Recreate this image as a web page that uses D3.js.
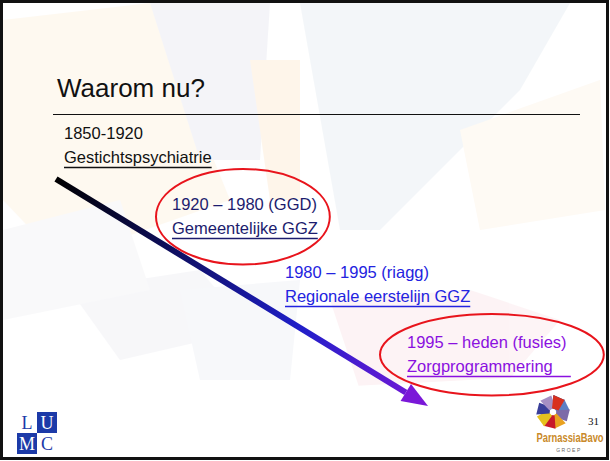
<!DOCTYPE html>
<html>
<head>
<meta charset="utf-8">
<script src="https://cdn.jsdelivr.net/npm/d3@7"></script>
<style>
body { margin: 0; background: #fff; }
text { font-family: "Liberation Sans", Arial, sans-serif; }
</style>
</head>
<body>
<div id="slide"></div>
<script>
// slide content
let title = "Waarom nu?";
let periods = ["1850-1920", "1920 – 1980 (GGD)", "1980 – 1995 (riagg)", "1995 – heden (fusies)"];
let names = ["Gestichtspsychiatrie", "Gemeentelijke GGZ", "Regionale eerstelijn GGZ", "Zorgprogrammering"];
let periodColors = ["#111111", "#1c1c6e", "#2323e0", "#8a10e0"];
let circled = [false, true, false, true];
let slideNumber = "31";

function buildSlide() {

let boxWidth = 610;
let boxHeight = 461;

let svg = d3.select("#slide")
    .append("svg")
    .attr("width", boxWidth)
    .attr("height", boxHeight);

let defs = svg.append("defs");

// faint background shapes
let bg = svg.append("g").attr("opacity", 0.4);
let shapes = [
    {pts: [[3,20],[150,3],[230,200],[60,260],[3,200]], c: "#fdf1dc"},
    {pts: [[150,3],[270,3],[260,160],[200,160]], c: "#e6e6f0"},
    {pts: [[300,3],[570,3],[520,90],[380,230],[340,230]], c: "#e3ebf1"},
    {pts: [[250,60],[300,60],[300,200],[270,200]], c: "#fde8cc"},
    {pts: [[330,300],[470,290],[560,320],[500,390],[360,390]], c: "#fbe3e8"},
    {pts: [[70,290],[200,270],[250,330],[120,360]], c: "#ececf2"},
    {pts: [[3,230],[120,200],[150,290],[3,320]], c: "#f1f1f5"},
    {pts: [[460,130],[600,80],[605,210],[480,230]], c: "#fdf3e4"},
    {pts: [[180,290],[300,280],[290,380],[200,380]], c: "#eceef5"}
];
bg.selectAll("polygon")
    .data(shapes)
    .enter()
    .append("polygon")
    .attr("points", d => d.pts.map(p => p.join(",")).join(" "))
    .attr("fill", d => d.c);

// white footer band
svg.append("path")
    .attr("d", "M0,405 C150,395 400,385 610,372 L610,461 L0,461 Z")
    .attr("fill", "#ffffff");

// frame
svg.append("rect")
    .attr("x", 1.5).attr("y", 1.5)
    .attr("width", boxWidth - 4).attr("height", boxHeight - 4)
    .attr("fill", "none")
    .attr("stroke", "#111")
    .attr("stroke-width", 3);

// title
svg.append("text")
    .attr("x", 57).attr("y", 97)
    .attr("font-size", "26px")
    .attr("fill", "#111")
    .text(title);

svg.append("line")
    .attr("x1", 53).attr("x2", 580)
    .attr("y1", 114.5).attr("y2", 114.5)
    .attr("stroke", "#111")
    .attr("stroke-width", 1);

// arrow with gradient
let grad = defs.append("linearGradient")
    .attr("id", "arrowGrad")
    .attr("gradientUnits", "userSpaceOnUse")
    .attr("x1", 56).attr("y1", 179)
    .attr("x2", 428).attr("y2", 406);
grad.append("stop").attr("offset", "0%").attr("stop-color", "#000000");
grad.append("stop").attr("offset", "35%").attr("stop-color", "#10106a");
grad.append("stop").attr("offset", "65%").attr("stop-color", "#1f1fc8");
grad.append("stop").attr("offset", "100%").attr("stop-color", "#7a18d8");

let ax0 = 56, ay0 = 179, ax1 = 428, ay1 = 406;
let ang = Math.atan2(ay1 - ay0, ax1 - ax0);
let headLen = 26, headW = 10;
let bx = ax1 - headLen * Math.cos(ang), by = ay1 - headLen * Math.sin(ang);
svg.append("line")
    .attr("x1", ax0).attr("y1", ay0)
    .attr("x2", bx).attr("y2", by)
    .attr("stroke", "url(#arrowGrad)")
    .attr("stroke-width", 6);
let nx = -Math.sin(ang), ny = Math.cos(ang);
svg.append("polygon")
    .attr("points", [[ax1, ay1], [bx + nx * headW, by + ny * headW], [bx - nx * headW, by - ny * headW]].map(p => p.join(",")).join(" "))
    .attr("fill", "#7a18d8");

// positions of the periods along the timeline
let xPos = d3.scaleOrdinal().domain(d3.range(periods.length)).range([64, 172, 285, 407]);
let yPos = d3.scaleOrdinal().domain(d3.range(periods.length)).range([139, 210, 278, 348]);
// extra underline length (last one runs past the word)
let ulExtra = [0, 0, 0, 18];

let items = svg.selectAll("g.period")
    .data(periods)
    .enter()
    .append("g")
    .attr("class", "period")
    .attr("transform", (d, i) => `translate(${xPos(i)}, ${yPos(i)})`);

items.append("text")
    .attr("font-size", "16.5px")
    .attr("fill", (d, i) => periodColors[i])
    .text(d => d);

items.append("text")
    .attr("y", 24)
    .attr("font-size", "16.5px")
    .attr("fill", (d, i) => periodColors[i])
    .text((d, i) => names[i])
    .each(function(d, i) {
        let w = this.getComputedTextLength() + ulExtra[i];
        d3.select(this.parentNode).append("line")
            .attr("x1", 0).attr("x2", w)
            .attr("y1", 28.5).attr("y2", 28.5)
            .attr("stroke", periodColors[i])
            .attr("stroke-width", 1.5);
    });

// red ellipses round the highlighted periods
let ellPad = {1: [14, 26, -2], 3: [30, 19, 3]};
items.filter((d, i) => circled[i])
    .append("ellipse")
    .each(function(d) {
        let i = periods.indexOf(d);
        let box = this.parentNode.getBBox();
        let p = ellPad[i];
        d3.select(this)
            .attr("cx", box.x + box.width / 2 + p[2])
            .attr("cy", box.y + box.height / 2)
            .attr("rx", box.width / 2 + p[0])
            .attr("ry", box.height / 2 + p[1]);
    })
    .attr("fill", "none")
    .attr("stroke", "#e8141c")
    .attr("stroke-width", 2);

// LUMC logo
let lumc = svg.append("g").attr("transform", "translate(17, 412)");
let cells = [["L", 0, 0, false], ["U", 1, 0, true], ["M", 0, 1, true], ["C", 1, 1, false]];
lumc.selectAll("rect")
    .data(cells)
    .enter()
    .append("rect")
    .attr("x", d => d[1] * 20).attr("y", d => d[2] * 21)
    .attr("width", 20).attr("height", 21)
    .attr("fill", d => d[3] ? "#1c3aa8" : "#ffffff");
lumc.selectAll("text")
    .data(cells)
    .enter()
    .append("text")
    .attr("x", d => d[1] * 20 + 10).attr("y", d => d[2] * 21 + 17)
    .attr("text-anchor", "middle")
    .style("font-family", "'Liberation Serif', serif")
    .attr("font-size", "18px")
    .attr("fill", d => d[3] ? "#ffffff" : "#1c3aa8")
    .text(d => d[0]);

// ParnassiaBavo logo
let pb = svg.append("g").attr("transform", "translate(553, 412) scale(1.35)");
let shards = [
    {a: -60, c: "#203a8c"}, {a: -20, c: "#5d7fc4"}, {a: 20, c: "#7d6aa8"},
    {a: 70, c: "#e9a11f"}, {a: 110, c: "#c8182a"}, {a: 150, c: "#e6c21e"},
    {a: 200, c: "#3a3f9a"}, {a: 250, c: "#a58fc4"}, {a: 300, c: "#d8301e"}
];
pb.selectAll("polygon")
    .data(shards)
    .enter()
    .append("polygon")
    .attr("points", "2,-2 11,-6 12,3 3,3")
    .attr("transform", d => `rotate(${d.a})`)
    .attr("fill", d => d.c);

svg.append("text")
    .attr("x", 588).attr("y", 425)
    .style("font-family", "'Liberation Serif', serif")
    .attr("font-size", "11px")
    .attr("fill", "#111")
    .text(slideNumber);

svg.append("text")
    .attr("transform", "translate(570, 442) scale(0.75, 1)")
    .attr("text-anchor", "middle")
    .attr("font-size", "12.5px")
    .attr("font-weight", "bold")
    .attr("fill", "#c98a2a")
    .text("ParnassiaBavo");

svg.append("text")
    .attr("x", 569).attr("y", 452)
    .attr("text-anchor", "middle")
    .attr("font-size", "5px")
    .attr("letter-spacing", "1.5px")
    .attr("fill", "#666")
    .text("GROEP");
}

buildSlide();
</script>
</body>
</html>
